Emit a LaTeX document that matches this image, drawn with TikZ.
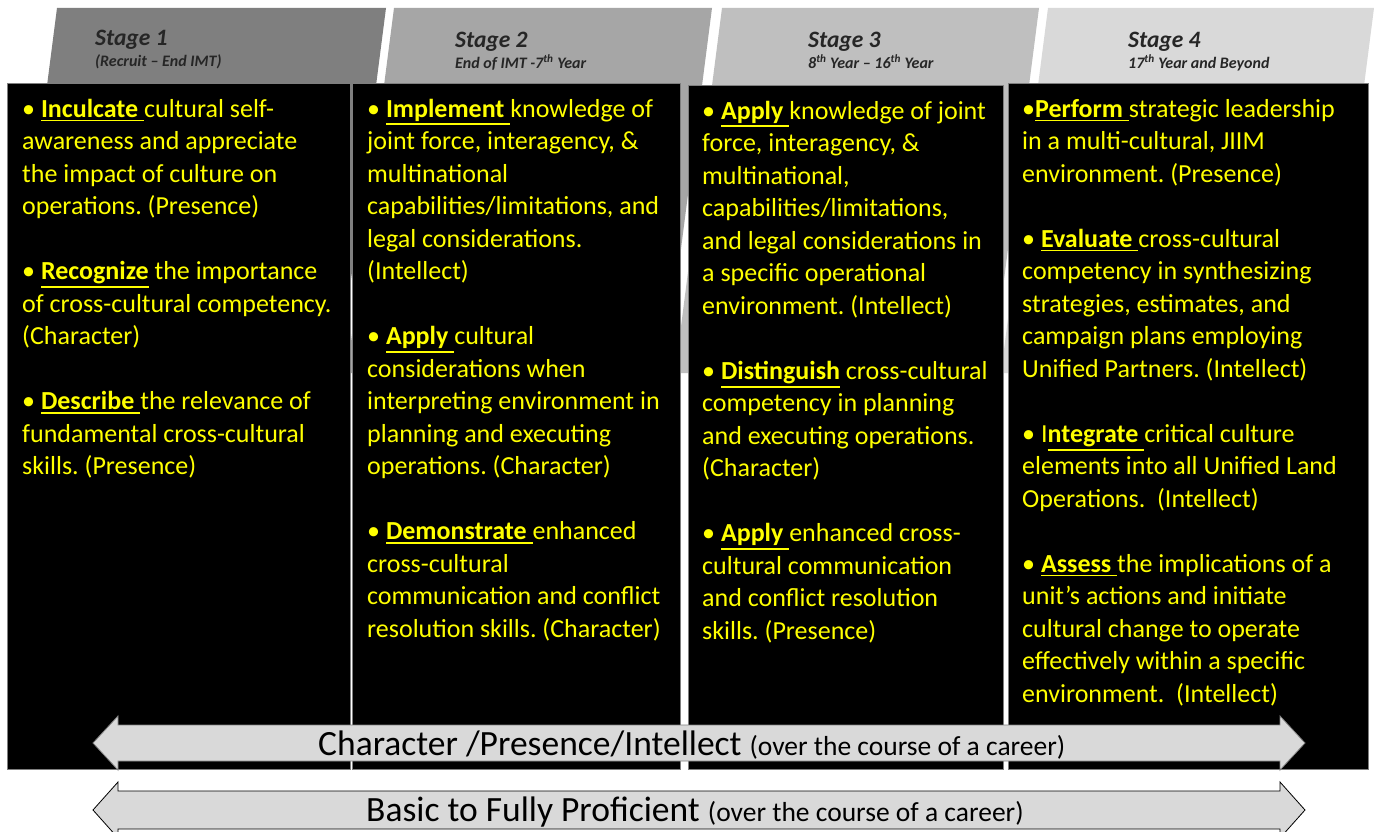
\documentclass[tikz,border=0pt]{standalone}
\usepackage{fontspec}
\setmainfont{Carlito}
\definecolor{hdrA}{HTML}{7F7F7F}
\definecolor{hdrB}{HTML}{A6A6A6}
\definecolor{hdrC}{HTML}{BFBFBF}
\definecolor{hdrD}{HTML}{D9D9D9}
\definecolor{ylw}{HTML}{FFFF00}
\definecolor{hdrtxt}{HTML}{262626}
\definecolor{arrfill}{HTML}{D9D9D9}
\newcommand\uw[1]{\setbox0=\hbox{\textbf{#1}}\leavevmode\rlap{\rule[-\dimexpr\dp0+4pt\relax]{\wd0}{1.8pt}}\box0\relax}
\tikzset{
  colbox/.style={draw=hdrA, line width=0.8pt, fill=black, anchor=north west, inner sep=0pt},
  coltext/.style={anchor=north west, inner sep=0pt, text=ylw, align=left,
    font=\fontsize{26}{32.5}\selectfont\frenchspacing},
  stagetitle/.style={anchor=base west, inner sep=0pt, text=hdrtxt,
    font=\fontsize{23.5}{26}\selectfont\bfseries\itshape},
  stagesub/.style={anchor=base west, inner sep=0pt, text=hdrtxt,
    font=\fontsize{16}{18}\selectfont\bfseries\itshape},
  arrtext/.style={anchor=base west, inner sep=0pt, text=black,
    font=\fontsize{35.5}{40}\selectfont},
}
\newcommand\smalltxt[1]{{\fontsize{27.5}{30}\selectfont #1}}
\begin{document}
\begin{tikzpicture}[x=1pt,y=-1pt]
\useasboundingbox (0,0) rectangle (1374,832);
\clip (0,0) rectangle (1374,832);
\fill[white] (0,0) rectangle (1374,832);
% stage headers (tall slanted bands)
\fill[hdrA] (57,8) -- (386,8) -- (339,373) -- (10,373) -- cycle;
\fill[hdrB] (394,8) -- (712,8) -- (665,373) -- (347,373) -- cycle;
\fill[hdrC] (722,8) -- (1039,8) -- (992,373) -- (675,373) -- cycle;
\fill[hdrD] (1048,8) -- (1374,8) -- (1327,373) -- (1001,373) -- cycle;
\node[stagetitle] (s1t) at (95,46) {Stage 1};
\node[stagesub] (s1s) at (95,67) {(Recruit – End IMT)};
\node[stagetitle] (s2t) at (455,48) {Stage 2};
\node[stagesub] (s2s) at (455,69) {End of IMT -7\textsuperscript{th} Year};
\node[stagetitle] (s3t) at (808,48) {Stage 3};
\node[stagesub] (s3s) at (808,69) {8\textsuperscript{th} Year – 16\textsuperscript{th} Year};
\node[stagetitle] (s4t) at (1128,48) {Stage 4};
\node[stagesub] (s4s) at (1128,69) {17\textsuperscript{th} Year and Beyond};
% columns
\node[colbox, minimum width=343pt, minimum height=686pt] (b1) at (7,83) {};
\node[colbox, minimum width=328pt, minimum height=686pt] (b2) at (352,83) {};
\node[colbox, minimum width=315pt, minimum height=684pt] (b3) at (688,85) {};
\node[colbox, minimum width=360pt, minimum height=686pt] (b4) at (1008,83) {};
\node[coltext] (t1) at (22,94.25) {\strut• \uw{Inculcate }cultural self-\\
awareness and appreciate\\
the impact of culture on\\
operations. (Presence)\\[32.5pt]
• \uw{Recognize} the importance\\
of cross-cultural competency.\\
(Character)\\[32.5pt]
• \uw{Describe }the relevance of\\
fundamental cross-cultural\\
skills. (Presence)};
\node[coltext] (t2) at (367,94.25) {\strut• \uw{Implement }knowledge of\\
joint force, interagency, \&\\
multinational\\
capabilities/limitations, and\\
legal considerations.\\
(Intellect)\\[32.5pt]
• \uw{Apply }cultural\\
considerations when\\
interpreting environment in\\
planning and executing\\
operations. (Character)\\[32.5pt]
• \uw{Demonstrate }enhanced\\
cross-cultural\\
communication and conflict\\
resolution skills. (Character)};
\node[coltext] (t3) at (702,96.25) {\strut• \uw{Apply }knowledge of joint\\
force, interagency, \&\\
multinational,\\
capabilities/limitations,\\
and legal considerations in\\
a specific operational\\
environment. (Intellect)\\[32.5pt]
• \uw{Distinguish} cross-cultural\\
competency in planning\\
and executing operations.\\
(Character)\\[32.5pt]
• \uw{Apply }enhanced cross-\\
cultural communication\\
and conflict resolution\\
skills. (Presence)};
\node[coltext] (t4) at (1022,94.25) {\strut•\uw{Perform }strategic leadership\\
in a multi-cultural, JIIM\\
environment. (Presence)\\[32.5pt]
• \uw{Evaluate }cross-cultural\\
competency in synthesizing\\
strategies, estimates, and\\
campaign plans employing\\
Unified Partners. (Intellect)\\[32.5pt]
• I\uw{ntegrate }critical culture\\
elements into all Unified Land\\
Operations.~ (Intellect)\\[32.5pt]
• \uw{Assess }the implications of a\\
unit’s actions and initiate\\
cultural change to operate\\
effectively within a specific\\
environment.~ (Intellect)};
% double arrows
\filldraw[fill=arrfill, draw=hdrA, line width=0.8pt]
  (93,743) -- (118,716) -- (118,725) -- (1280,725) -- (1280,716) -- (1305,743)
  -- (1280,770) -- (1280,761) -- (118,761) -- (118,770) -- cycle;
\node[arrtext] (a1) at (318,755) {Character /Presence/Intellect \smalltxt{(over the course of a career)}};
\filldraw[fill=arrfill, draw=black, line width=0.8pt]
  (93,810) -- (118,782) -- (118,791) -- (1280,791) -- (1280,782) -- (1305,810)
  -- (1280,838) -- (1280,829) -- (118,829) -- (118,838) -- cycle;
\node[arrtext] (a2) at (366,821) {Basic to Fully Proficient \smalltxt{(over the course of a career)}};
\end{tikzpicture}
\end{document}
